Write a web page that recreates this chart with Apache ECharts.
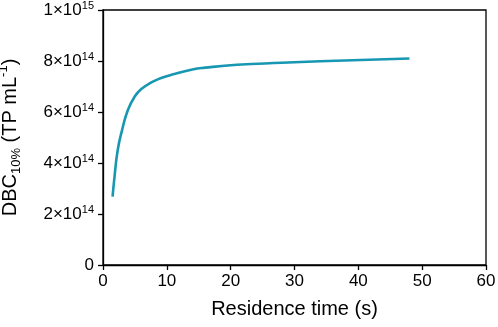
<!DOCTYPE html>
<html>
<head>
<meta charset="utf-8">
<script src="https://cdn.jsdelivr.net/npm/echarts@6/dist/echarts.min.js"></script>
<style>
  html, body { margin: 0; padding: 0; background: #fff; }
  #chart { width: 498px; height: 327px; }
</style>
</head>
<body>
<div id="chart"></div>
<script>
// residence time (s) and DBC10% (TP per mL)
const residenceTime = [1.5, 1.8, 2.3, 3, 3.9, 5, 6, 7.5, 9, 11, 14, 16, 21, 28, 34, 48];
const dbc = [2.68e14, 3.45e14, 4.5e14, 5.3e14, 6.08e14, 6.62e14, 6.9e14, 7.15e14, 7.32e14,
             7.48e14, 7.67e14, 7.74e14, 7.85e14, 7.93e14, 7.99e14, 8.1e14];

const xTicks = [0, 10, 20, 30, 40, 50, 60];
const yTicks = [0, 2e14, 4e14, 6e14, 8e14, 1e15];
const yTickMantissa = ["0", "2×10", "4×10", "6×10", "8×10", "1×10"];
const yTickExponent = ["", "14", "14", "14", "14", "15"];

const FONT = "Liberation Sans, Arial, sans-serif";
const chart = echarts.init(document.getElementById("chart"));

chart.setOption({
  animation: false,
  grid: {
    left: 103, right: 12, top: 10, bottom: 62,
    containLabel: false,
    outerBoundsMode: "none",
    show: true, borderColor: "#000", borderWidth: 1.3
  },
  xAxis: {
    type: "value",
    min: xTicks[0], max: xTicks[xTicks.length - 1], interval: 10,
    name: "Residence time (s)",
    nameLocation: "middle",
    nameGap: 34,
    nameTextStyle: { fontFamily: FONT, fontSize: 20, color: "#000" },
    axisLine: { lineStyle: { color: "#000", width: 1.3 } },
    axisTick: { length: 5, lineStyle: { color: "#000", width: 1.3 } },
    axisLabel: { fontFamily: FONT, fontSize: 17, color: "#000", margin: 8 },
    splitLine: { show: false }
  },
  yAxis: {
    type: "value",
    min: yTicks[0], max: yTicks[yTicks.length - 1], interval: 2e14,
    name: "{m|DBC}{sub|10%}{m| (TP mL}{sup|-1}{m|)}",
    nameLocation: "middle",
    nameRotate: 90,
    nameGap: 80,
    nameTextStyle: {
      fontFamily: FONT, color: "#000",
      rich: {
        m: { fontFamily: FONT, fontSize: 20, lineHeight: 26, color: "#000" },
        sub: { fontFamily: FONT, fontSize: 13, lineHeight: 13, verticalAlign: "bottom", color: "#000" },
        sup: { fontFamily: FONT, fontSize: 13, lineHeight: 13, verticalAlign: "top", color: "#000" }
      }
    },
    axisLine: { lineStyle: { color: "#000", width: 1.3 } },
    axisTick: { length: 5, lineStyle: { color: "#000", width: 1.3 } },
    axisLabel: {
      margin: 9,
      formatter: (v) => {
        const i = yTicks.findIndex((t) => Math.abs(t - v) < 1);
        if (i < 0) return "";
        if (!yTickExponent[i]) return "{b|" + yTickMantissa[i] + "}";
        return "{b|" + yTickMantissa[i] + "}{s|" + yTickExponent[i] + "}";
      },
      rich: {
        b: { fontFamily: FONT, fontSize: 17, lineHeight: 20, color: "#000" },
        s: { fontFamily: FONT, fontSize: 11, lineHeight: 11, verticalAlign: "top", color: "#000" }
      }
    },
    splitLine: { show: false }
  },
  series: [{
    type: "line",
    data: residenceTime.map((t, i) => [t, dbc[i]]),
    smooth: 0.5,
    showSymbol: false,
    lineStyle: { color: "#1897b2", width: 2.6 }
  }]
});
</script>
</body>
</html>
